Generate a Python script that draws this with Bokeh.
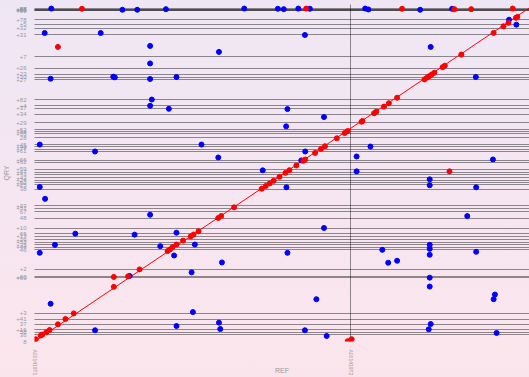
import numpy as np
from bokeh.plotting import figure
from bokeh.models import Range1d, FixedTicker
from bokeh.embed import file_html
from bokeh.resources import INLINE

# Reference sequences (kb)
ref_names = ["A001419T1", "A001419T2"]
ref_lengths = [3200, 1810]

# Query contigs (kb), bottom to top
qry_names = ["8", "36", "58", "+16", "37", "+41", "+3", "+69", "+60", "+2",
             "46", "+44", "+35", "+53", "+39", "+13", "65", "+10", "48", "67",
             "+51", "+33", "38", "+25", "+50", "+24", "+42", "+43", "+47", "+59",
             "+62", "+66", "+61", "+77", "+40", "+45", "28", "+55", "+38", "+52",
             "+29", "+34", "+37", "+4", "+82", "+27", "+30", "+23", "+26", "+7",
             "+31", "+32", "+5", "+78", "+80", "+85", "+86", "+87", "+88"]
qry_lengths = [66, 27, 23, 57, 50, 60, 357, 10, 76, 200,
               24, 23, 27, 23, 37, 23, 57, 100, 66, 34,
               26, 167, 43, 24, 23, 27, 33, 23, 27, 73,
               20, 87, 23, 24, 23, 67, 43, 20, 20, 67,
               86, 60, 27, 60, 200, 27, 33, 57, 116, 224,
               63, 40, 47, 88, 5, 5, 5, 5, 12]
assert len(qry_names) == len(qry_lengths)

# Forward matches (red)
fwd_ref = [13, 63, 80, 120, 153, 237, 313, 397, 803, 947, 1063, 1347, 1370, 1397, 1437, 1503,
           1580, 1610, 1660, 1860, 1890, 2020, 2300, 2340, 2380, 2420, 2480, 2540, 2580, 2650,
           2720, 2740, 2840, 2900, 2940, 3060, 3140, 3170, 3310, 3320, 3437, 3460, 3537, 3587,
           3670, 3947, 3973, 3993, 4020, 4047, 4130, 4153, 4320, 4647, 4747, 4797, 4873, 4887,
           237, 803, 4200, 3170, 3210,
           480, 2750, 3720, 4250, 4420, 4840]
fwd_qry = [23, 60, 70, 93, 116, 173, 226, 283, 550, 656, 726, 910, 926, 950, 976, 1016,
           1057, 1077, 1110, 1244, 1264, 1351, 1538, 1565, 1592, 1618, 1658, 1698, 1725, 1772,
           1819, 1832, 1899, 1939, 1966, 2046, 2099, 2119, 2213, 2220, 2298, 2314, 2365, 2399,
           2454, 2639, 2657, 2670, 2688, 2706, 2762, 2777, 2889, 3107, 3174, 3208, 3259, 3268,
           2966, 650, 1713, 3, 23,
           3350, 3352, 3350, 3346, 3346, 3352]

# Reverse matches (blue)
rev_ref = [170, 890, 1040, 1330, 2123, 2463, 2523, 2670, 2787, 3347, 3380, 3903, 4227,
           103, 670, 1170, 1170, 163, 797, 813, 1170, 1437, 1187, 1170, 1360,
           2737, 1867, 2560, 2930, 2547, 4803, 4877, 4010, 4467,
           53, 613, 53, 107, 1170, 413, 1013, 1437, 207, 1273, 53, 1413, 963,
           163, 613, 1437, 1623, 2560, 1897, 1590, 2853, 1603, 1867, 1880, 2737, 2957,
           4647, 4010, 3990, 4677,
           1690, 1860, 2310, 2550, 2740, 2700, 2930, 3260, 3260, 3400, 4000, 4000,
           4470, 4640, 4380, 4470, 4000, 4000, 4000, 3520, 3580, 3670, 4000, 4000, 4660]
rev_qry = [3352, 3340, 3340, 3346, 3352, 3350, 3346, 3352, 3350, 3352, 3343, 3340, 3350,
           3106, 3106, 2976, 2800, 2646, 2666, 2660, 2643, 2663, 2436, 2373, 2343,
           3086, 2916, 2340, 2260, 2166, 3240, 3190, 2966, 2663,
           1983, 1913, 1556, 1436, 1276, 1086, 1076, 1096, 973, 960, 893, 866, 660,
           380, 113, 156, 976, 893, 796, 696, 426, 296, 190, 126, 113, 56,
           426, 176, 123, 86,
           1983, 1853, 1723, 1553, 1913, 1823, 1143, 1863, 1713, 1963, 1633, 1573,
           1553, 1833, 1263, 903, 973, 933, 873, 923, 793, 813, 643, 553, 473]

ref_starts = np.concatenate([[0], np.cumsum(ref_lengths)[:-1]]).astype(int)
qry_starts = np.concatenate([[0], np.cumsum(qry_lengths)[:-1]]).astype(int)
ref_total = int(np.sum(ref_lengths))
qry_total = int(np.sum(qry_lengths))

p = figure(width=529, height=377, output_backend="svg", toolbar_location=None,
           x_range=Range1d(0, ref_total), y_range=Range1d(0, qry_total + 33),
           min_border_left=28, min_border_right=0, min_border_top=4, min_border_bottom=34)
p.background_fill_color = None
p.border_fill_color = None
p.outline_line_color = None
p.styles = {"background": "linear-gradient(to bottom, #efe6f5, #f5e6f1 50%, #fbe5ec)"}

for ax, starts, names in ((p.xaxis, ref_starts, ref_names), (p.yaxis, qry_starts, qry_names)):
    ax.ticker = FixedTicker(ticks=[int(s) for s in starts])
    ax.major_label_overrides = {int(s): n for s, n in zip(starts, names)}
    ax.axis_line_color = None
    ax.major_tick_line_color = None
    ax.minor_tick_line_color = None
    ax.major_label_text_font = "Liberation Sans"
    ax.major_label_text_font_size = "6px"
    ax.major_label_text_color = "#999999"
    ax.major_label_standoff = 2
    ax.axis_label_text_font = "Liberation Sans"
    ax.axis_label_text_font_size = "7px"
    ax.axis_label_text_font_style = "normal"
    ax.axis_label_text_color = "#999999"
p.xaxis.major_label_orientation = "vertical"
p.xaxis.major_label_text_font_size = "5px"
p.xaxis.major_label_standoff = 2
p.xaxis.axis_label = "REF"
p.xaxis.axis_label_standoff = -11
p.yaxis.axis_label = "QRY"
p.yaxis.axis_label_standoff = 3

for g in (p.xgrid, p.ygrid):
    g.grid_line_color = "#000000"
    g.grid_line_dash = "1 1"
    g.grid_line_width = 1
    g.grid_line_alpha = 0.85

p.line([0, ref_total], [0, qry_total], line_color="#ff0000", line_width=1)
p.scatter(rev_ref, rev_qry, size=5, fill_color="#0000ff", line_color="#0000ff")
p.scatter(fwd_ref, fwd_qry, size=5, fill_color="#ff0000", line_color="#ff0000")

open("out.html", "w").write(file_html(p, INLINE))
